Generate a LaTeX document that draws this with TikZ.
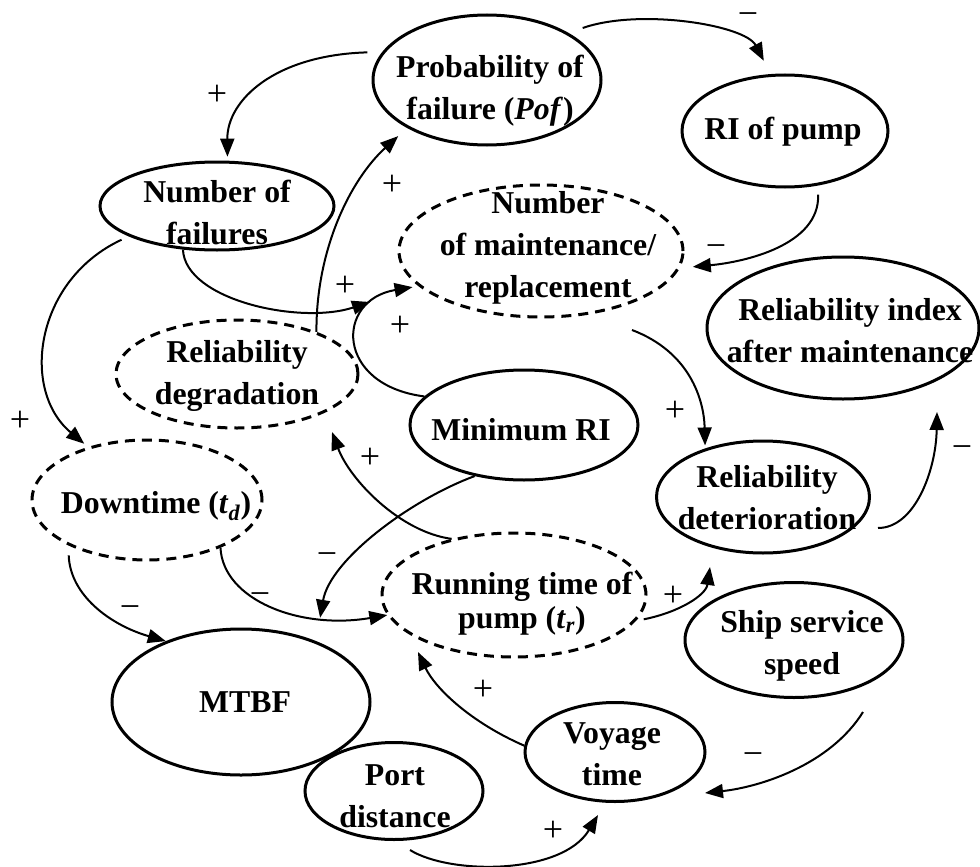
\documentclass[tikz,border=0pt]{standalone}
\usepackage{fontspec}
\setmainfont{Liberation Serif}
\usetikzlibrary{shapes.geometric,arrows.meta}
\begin{document}
\begin{tikzpicture}[x=1pt,y=-1pt,
  oval/.style={ellipse, draw, line width=3pt, inner sep=0pt},
  dashoval/.style={oval, dash pattern=on 10pt off 7pt},
  lbl/.style={align=center, inner sep=0pt, font=\fontsize{31.8}{42}\selectfont\bfseries},
  lbltight/.style={lbl, font=\fontsize{31.8}{34}\selectfont\bfseries},
  conn/.style={line width=2pt, -{Triangle[length=18pt,width=14pt]}},
  sign/.style={inner sep=0pt, text height=18pt, text depth=0pt, font=\fontsize{36}{40}\selectfont}]
\path[use as bounding box, fill=white] (0,0) rectangle (980,867);

% variables of the causal loop diagram
\node[oval, minimum width=228pt, minimum height=130pt] (pof) at (487,80) {};
\node[oval, minimum width=206pt, minimum height=112pt] (rip) at (785,131) {};
\node[oval, minimum width=234pt, minimum height=88pt] (nof) at (217,206) {};
\node[dashoval, minimum width=284pt, minimum height=132pt] (nmr) at (541,251) {};
\node[oval, minimum width=272pt, minimum height=142pt] (ria) at (843,328) {};
\node[dashoval, minimum width=242pt, minimum height=108pt] (rdg) at (237,374) {};
\node[oval, minimum width=228pt, minimum height=110pt] (mri) at (524,425) {};
\node[dashoval, minimum width=230pt, minimum height=120pt] (dtm) at (147,500) {};
\node[oval, minimum width=213pt, minimum height=112pt] (rdt) at (763,497) {};
\node[dashoval, minimum width=264pt, minimum height=124pt] (rtp) at (514,595) {};
\node[oval, minimum width=218pt, minimum height=115pt] (sss) at (794,640) {};
\node[oval, minimum width=258pt, minimum height=146pt] (mtbf) at (241,702) {};
\node[oval, minimum width=180pt, minimum height=99pt] (vyt) at (615,752) {};
\node[oval, minimum width=178pt, minimum height=97pt] (pdt) at (394,791) {};

% labels inside the ellipses
\node[lbl] (pof-t) at (490,91) {Probability of\\failure (\textit{Pof})};
\node[lbl] (rip-t) at (783,132) {RI of pump};
\node[lbl] (nof-t) at (217,212) {Number of\\failures};
\node[lbl] (nmr-t) at (548,248) {Number\\of maintenance/\\replacement};
\node[lbl] (ria-t) at (850,331) {Reliability index\\after maintenance};
\node[lbl] (rdg-t) at (237,376) {Reliability\\degradation};
\node[lbl] (mri-t) at (521,430) {Minimum RI};
\node[lbl] (dtm-t) at (156,506) {Downtime (\textit{t}\textsubscript{\textit{d}})};
\node[lbl] (rdt-t) at (767,498) {Reliability\\deterioration};
\node[lbltight] (rtp-t) at (522,604) {Running time of\\pump (\textit{t}\textsubscript{\textit{r}})};
\node[lbl] (sss-t) at (802,646) {Ship service\\speed};
\node[lbl] (mtbf-t) at (245,702) {MTBF};
\node[lbl] (vyt-t) at (612,754) {Voyage\\time};
\node[lbl] (pdt-t) at (395,796) {Port\\distance};

% free ends of the arrows that stop short of an ellipse
\coordinate (e4) at (370,302);
\coordinate (e8) at (632,330);
\coordinate (e9a) at (878,528);
\coordinate (e9b) at (937,412);
\coordinate (e11) at (332,432);
\coordinate (e14) at (710,567);
\coordinate (e15) at (418,652);
\coordinate (e16a) at (863,712);
\coordinate (e16b) at (705,793);
\coordinate (e17a) at (410,850);
\coordinate (e17b) at (598,815);

% causal links
\draw[conn, shorten <=15pt, shorten >=4pt] (pof.165) .. controls (275,55) and (227,100) .. (nof.77);
\draw[conn, shorten <=15pt, shorten >=15pt] (pof.30) .. controls (640,8) and (745,25) .. (rip.104);
\draw[conn, shorten <=8pt, shorten >=5pt] (nof.199) .. controls (35,280) and (20,390) .. (dtm.138);
\draw[conn] (nof.232) .. controls (185,300) and (300,325) .. (e4);
\draw[conn, shorten >=12pt] (rdg.28) .. controls (316,250) and (350,180) .. (pof.211);
\draw[conn, shorten >=6pt] (mri.164) .. controls (335,385) and (335,300) .. (nmr.196);
\draw[conn, shorten <=9pt, shorten >=13pt] (rip.301) .. controls (820,245) and (745,262) .. (nmr.353);
\draw[conn, shorten >=3pt] (e8) .. controls (690,352) and (704,400) .. (rdt.140);
\draw[conn] (e9a) .. controls (915,528) and (936,470) .. (e9b);
\draw[conn] (dtm.327) .. controls (223,600) and (300,630) .. (rtp.189) coordinate[pos=0.73] (junc);
\draw[conn] (mri.226) .. controls (410,500) and (330,560) .. (junc);
\draw[conn] (rtp.138) .. controls (400,532) and (350,480) .. (e11);
\draw[conn, shorten <=10pt] (dtm.210) .. controls (70,595) and (110,625) .. (mtbf.141);
\draw[conn, shorten <=8pt] (rtp.348) .. controls (680,612) and (706,595) .. (e14);
\draw[conn] (vyt.176) .. controls (470,722) and (435,688) .. (e15);
\draw[conn] (e16a) .. controls (830,765) and (760,787) .. (e16b);
\draw[conn] (e17a) .. controls (450,875) and (562,875) .. (e17b);

% polarity of each link
\node[sign] (s1) at (217,97) {+};
\node[sign] (s2) at (748,17) {−};
\node[sign] (s3) at (20,422) {+};
\node[sign] (s4) at (345,287) {+};
\node[sign] (s5) at (392,186) {+};
\node[sign] (s6) at (400,327) {+};
\node[sign] (s7) at (716,248) {−};
\node[sign] (s8) at (675,412) {+};
\node[sign] (s9) at (962,449) {−};
\node[sign] (s10) at (327,556) {−};
\node[sign] (s11) at (370,459) {+};
\node[sign] (s12) at (260,596) {−};
\node[sign] (s13) at (130,609) {−};
\node[sign] (s14) at (673,597) {+};
\node[sign] (s15) at (483,691) {+};
\node[sign] (s16) at (753,756) {−};
\node[sign] (s17) at (553,832) {+};
\end{tikzpicture}
\end{document}
